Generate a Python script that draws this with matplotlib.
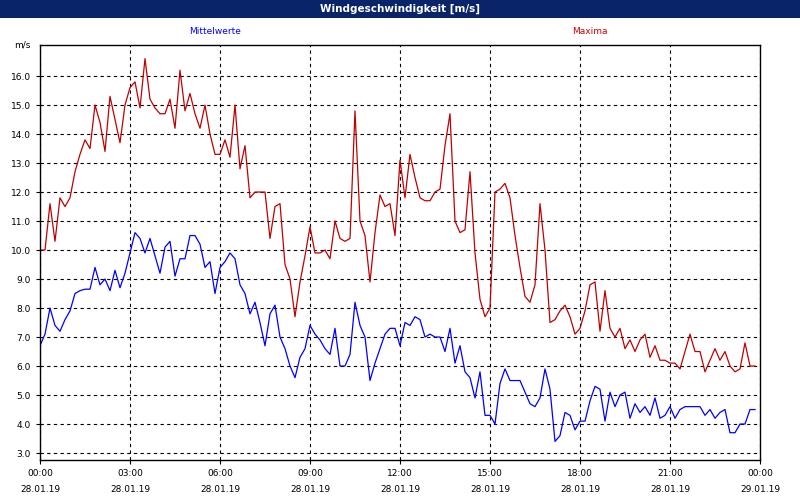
import matplotlib
matplotlib.use("Agg")
import matplotlib.pyplot as plt
import pandas as pd

maxima = [10.0,10.0,11.6,10.3,11.8,11.5,11.8,12.7,13.3,13.8,13.5,15.0,14.4,13.4,15.3,14.5,13.7,15.0,15.6,15.8,
14.9,16.6,15.2,14.9,14.7,14.7,15.2,14.2,16.2,14.8,15.4,14.7,14.2,15.0,14.0,13.3,13.3,13.8,13.2,15.0,
12.8,13.6,11.8,12.0,12.0,12.0,10.4,11.5,11.6,9.5,9.0,7.7,8.9,9.8,10.8,9.9,9.9,10.0,9.7,11.0,
10.4,10.3,10.4,14.8,11.0,10.5,8.9,10.6,11.9,11.5,11.6,10.5,13.1,11.8,13.3,12.5,11.8,11.7,11.7,12.0,
12.1,13.6,14.7,11.0,10.6,10.7,12.7,9.9,8.3,7.7,8.0,12.0,12.1,12.3,11.8,10.5,9.4,8.4,8.2,8.8,
11.6,10.0,7.5,7.6,7.9,8.1,7.7,7.1,7.3,7.9,8.8,8.9,7.2,8.6,7.3,7.0,7.3,6.6,6.9,6.5,
6.9,7.1,6.3,6.7,6.2,6.2,6.1,6.1,5.9,6.5,7.1,6.5,6.5,5.8,6.2,6.6,6.2,6.5,6.0,5.8,
5.9,6.8,6.0,6.0]
mittel = [6.7,7.1,8.0,7.4,7.2,7.6,7.9,8.5,8.6,8.65,8.65,9.4,8.8,9.0,8.6,9.3,8.7,9.2,9.9,10.6,
10.4,9.9,10.4,9.8,9.2,10.1,10.3,9.1,9.7,9.7,10.5,10.5,10.2,9.4,9.6,8.5,9.4,9.6,9.9,9.7,
8.8,8.5,7.8,8.2,7.5,6.7,7.8,8.1,7.0,6.6,6.0,5.6,6.3,6.6,7.4,7.1,6.9,6.6,6.4,7.3,
6.0,6.0,6.4,8.2,7.4,7.0,5.5,6.1,6.6,7.1,7.3,7.3,6.7,7.5,7.4,7.7,7.6,7.0,7.1,7.0,
7.0,6.5,7.3,6.1,6.7,5.8,5.6,4.9,5.8,4.3,4.3,4.0,5.4,5.9,5.5,5.5,5.5,5.1,4.7,4.6,
4.9,5.9,5.2,3.4,3.6,4.4,4.3,3.8,4.1,4.1,4.8,5.3,5.2,4.1,5.1,4.6,5.0,5.1,4.2,4.7,
4.4,4.6,4.3,4.9,4.2,4.3,4.6,4.2,4.5,4.6,4.6,4.6,4.6,4.3,4.5,4.2,4.4,4.5,3.7,3.7,
4.0,4.0,4.5,4.5]
yticks = [3.0,4.0,5.0,6.0,7.0,8.0,9.0,10.0,11.0,12.0,13.0,14.0,15.0,16.0]
xtick_times = pd.date_range("2019-01-28 00:00", "2019-01-29 00:00", freq="3h")
times = pd.date_range("2019-01-28 00:00", periods=len(maxima), freq="10min")

fig = plt.figure(figsize=(8, 5), dpi=100, facecolor="white")
fig.patches.append(plt.Rectangle((0, 482/500), 1, 18/500, transform=fig.transFigure,
                                 facecolor="#0a246a", edgecolor="none"))
fig.text(0.5, 491/500, "Windgeschwindigkeit [m/s]", color="white", ha="center", va="center",
         fontsize=7.5, fontweight="bold", family="DejaVu Sans")
fig.text(215/800, 1-31/500, "Mittelwerte", color="#0000ff", ha="center", va="center", fontsize=6.5)
fig.text(590/800, 1-31/500, "Maxima", color="#cc0000", ha="center", va="center", fontsize=6.5)
fig.text(22/800, 1-45/500, "m/s", color="black", ha="center", va="center", fontsize=6.5)

ax = fig.add_axes([40/800, 40/500, 720/800, 415/500])
ax.plot(times, maxima, color="#c00000", lw=0.9)
ax.plot(times, mittel, color="#0000ff", lw=0.9)
ax.set_xlim(xtick_times[0], xtick_times[-1])
ax.set_ylim(2.76, 17.07)
ax.set_yticks(yticks)
ax.set_yticklabels([f"{v:.1f}" for v in yticks])
ax.set_xticks(xtick_times)
ax.set_xticklabels([t.strftime("%H:%M") + "\n" + t.strftime("%d.%m.%y") for t in xtick_times],
                   linespacing=2.0)
ax.tick_params(labelsize=6.5, length=3)
ax.grid(True, color="black", linestyle=(0, (3, 3)), lw=0.8)
for s in ax.spines.values():
    s.set_linewidth(1.0)
fig.savefig("out.png", dpi=100, facecolor="white")
